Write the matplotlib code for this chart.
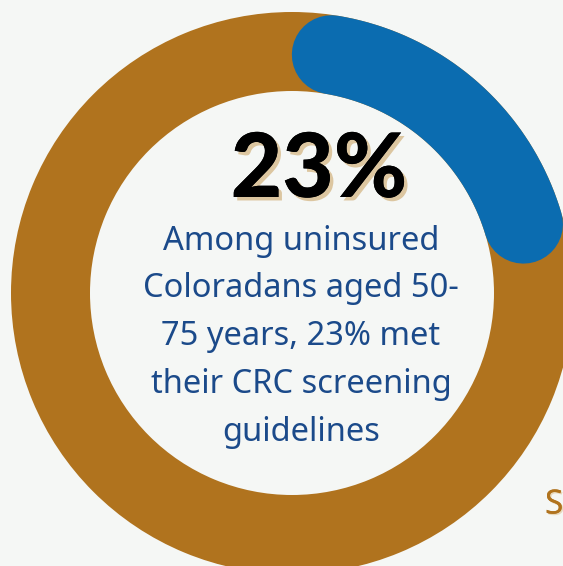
import numpy as np
import matplotlib
matplotlib.use("Agg")
import matplotlib.pyplot as plt
from matplotlib.patches import Wedge
import matplotlib.patheffects as pe

# data
pct_met = 23
headline = "23%"
body_lines = ["Among uninsured", "Coloradans aged 50-", "75 years, 23% met",
              "their CRC screening", "guidelines"]

W, H = 563, 566
fig = plt.figure(figsize=(W / 100, H / 100), dpi=100)
bg = "#f5f7f5"
fig.patch.set_facecolor(bg)
ax = fig.add_axes([0, 0, 1, 1])
ax.set_xlim(0, W)
ax.set_ylim(H, 0)
ax.set_aspect("equal")
ax.axis("off")

cx, cy = 292, 293
R_out, R_in = 281, 202
width = R_out - R_in
gold = "#b0731e"
blue = "#0b6cb0"
text_blue = "#1b4a8a"

ax.add_patch(Wedge((cx, cy), R_out, 0, 360, width=width, facecolor=gold, edgecolor="none"))

# blue arc with round caps; total including caps = pct of circle
r_mid = (R_out + R_in) / 2
cap_ang = np.degrees((width / 2) / r_mid)
total = pct_met / 100 * 360
th = np.radians(np.linspace(cap_ang, total - cap_ang, 200))
xs = cx + r_mid * np.sin(th)
ys = cy - r_mid * np.cos(th)
ax.plot(xs, ys, color=blue, lw=width * 0.72, solid_capstyle="round")

# headline
ax.text(319, 171, headline, ha="center", va="center", fontsize=64,
        fontweight="black", family=["Lato", "DejaVu Sans"], color="black",
        path_effects=[pe.withSimplePatchShadow(offset=(2.5, -2.5), shadow_rgbFace="#dcc6a0", alpha=1),
                      pe.Normal()])

y0 = 241
dy = 47.8
for i, line in enumerate(body_lines):
    ax.text(301, y0 + i * dy, line, ha="center", va="center", fontsize=23.5,
            family=["Noto Sans", "DejaVu Sans"], color=text_blue)

ax.text(545, 505, "S", ha="left", va="center", fontsize=24,
        family=["Noto Sans", "DejaVu Sans"], color=gold,
        path_effects=[pe.withSimplePatchShadow(offset=(1, -1), shadow_rgbFace="#e8d9bd", alpha=1),
                      pe.Normal()])

fig.savefig("out.png", dpi=100, facecolor=bg)
